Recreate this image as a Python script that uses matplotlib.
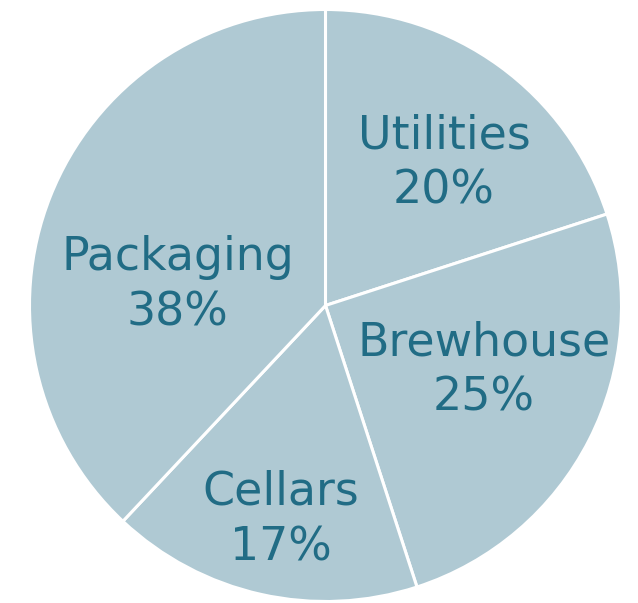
import matplotlib
matplotlib.use('Agg')
import matplotlib.pyplot as plt

# share of energy use by area
areas = ['Utilities', 'Brewhouse', 'Cellars', 'Packaging']
shares = [20, 25, 17, 38]

FILL = '#afc9d3'
INK = '#216c85'

# label centres in pie units (radius 1)
label_xy = [(0.40, 0.48), (0.535, -0.22), (-0.15, -0.725), (-0.50, 0.07)]

fig = plt.figure(figsize=(6.38, 6.03), dpi=100)
R = 296
ax = fig.add_axes([(325.5 - R) / 638, (603 - 305.5 - R) / 603, 2 * R / 638, 2 * R / 603])

ax.pie(shares, startangle=90, counterclock=False, colors=[FILL] * len(shares),
       wedgeprops=dict(edgecolor='white', linewidth=2.2))
ax.set_xlim(-1, 1)
ax.set_ylim(-1, 1)
ax.set_aspect('equal')
ax.axis('off')

for name, val, (x, y) in zip(areas, shares, label_xy):
    ax.text(x, y, f"{name}\n{val}%", ha='center', va='center', color=INK,
            fontsize=33, family='DejaVu Sans', linespacing=1.3)

fig.savefig('out.png', dpi=100)
